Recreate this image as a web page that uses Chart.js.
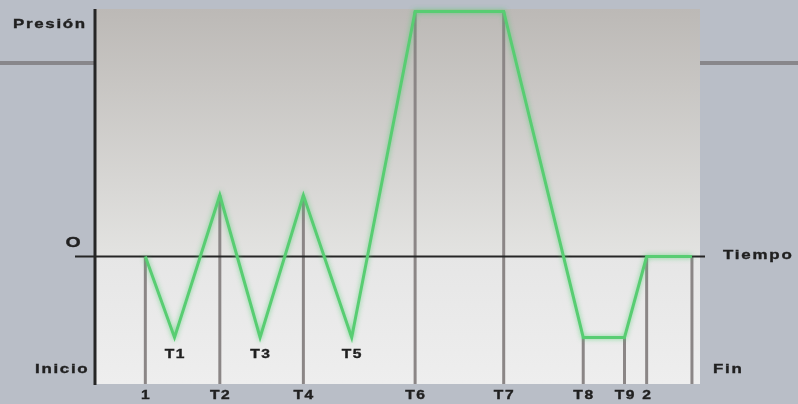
<!DOCTYPE html>
<html>
<head>
<meta charset="utf-8">
<script src="https://cdn.jsdelivr.net/npm/chart.js@4"></script>
<style>
  html, body { margin: 0; padding: 0; background: #b9bec7; }
  #wrap { width: 798px; height: 404px; }
</style>
</head>
<body>
<div id="wrap"><canvas id="chart"></canvas></div>
<script>
// cycle points: time (x) and pressure (y)
const times     = [4.9, 7.8, 12.3, 16.3, 20.6, 25.4, 31.7, 40.5, 48.4, 52.5, 54.7, 59.2];
const pressures = [0, -33, 25, -33, 25, -33, 100, 100, -33, -33, 0, 0];
const pointNames = ['1', 'T1', 'T2', 'T3', 'T4', 'T5', 'T6', 'T7', 'T8', 'T9', '2', ''];
// points that get a vertical drop line to the base
const dropPoints = [0, 2, 4, 6, 7, 8, 9, 10, 11];
const refLevel = 79;          // grey reference level outside the box
const timeRange = [0, 60];
const pressureRange = [-52, 101];

const FONT = '"Liberation Sans", Arial, sans-serif';
const STRETCH = 1.3;   // the original lettering is an extended bold face

function label(ctx, text, x, y, size, align, spacing) {
    ctx.save();
    ctx.font = 'bold ' + size + 'px ' + FONT;
    ctx.fillStyle = '#202020';
    ctx.strokeStyle = '#202020';
    ctx.lineWidth = 0.35;
    ctx.textBaseline = 'middle';
    ctx.textAlign = 'left';
    ctx.letterSpacing = (spacing / STRETCH) + 'px';
    const w = (ctx.measureText(text).width - spacing / STRETCH) * STRETCH;
    let left = x;
    if (align === 'center') left = x - w / 2;
    if (align === 'right') left = x - w;
    ctx.translate(left, y);
    ctx.scale(STRETCH, 1);
    ctx.fillText(text, 0, 0);
    ctx.strokeText(text, 0, 0);
    ctx.restore();
}

const backdrop = {
    id: 'backdrop',
    beforeDraw(chart) {
        const { ctx, chartArea: a, scales: { x, y } } = chart;
        const zero = y.getPixelForValue(0);
        ctx.save();
        ctx.fillStyle = '#b9bec7';
        ctx.fillRect(0, 0, chart.width, chart.height);

        // grey reference line across the page
        const ry = y.getPixelForValue(refLevel);
        ctx.strokeStyle = '#88878b';
        ctx.lineWidth = 4;
        ctx.beginPath();
        ctx.moveTo(0, ry);
        ctx.lineTo(chart.width, ry);
        ctx.stroke();

        // plot box, upper part darker at top
        let g = ctx.createLinearGradient(0, a.top, 0, zero);
        g.addColorStop(0, '#bcb9b6');
        g.addColorStop(1, '#e3e3e1');
        ctx.fillStyle = g;
        ctx.fillRect(a.left, a.top, a.right - a.left, zero - a.top);
        g = ctx.createLinearGradient(0, zero, 0, a.bottom);
        g.addColorStop(0, '#e6e6e6');
        g.addColorStop(1, '#eeeeee');
        ctx.fillStyle = g;
        ctx.fillRect(a.left, zero, a.right - a.left, a.bottom - zero);
        ctx.restore();
    },
    beforeDatasetsDraw(chart) {
        const { ctx, chartArea: a, scales: { x, y } } = chart;
        const zero = y.getPixelForValue(0);
        ctx.save();
        // drop lines
        ctx.strokeStyle = '#8b8686';
        ctx.lineWidth = 3;
        dropPoints.forEach(i => {
            const px = x.getPixelForValue(times[i]);
            ctx.beginPath();
            ctx.moveTo(px, y.getPixelForValue(pressures[i]));
            ctx.lineTo(px, a.bottom);
            ctx.stroke();
        });
        // pressure axis
        ctx.strokeStyle = '#262626';
        ctx.lineWidth = 3;
        ctx.beginPath();
        ctx.moveTo(a.left - 1, a.top);
        ctx.lineTo(a.left - 1, a.bottom + 1);
        ctx.stroke();
        // time axis at zero
        ctx.lineWidth = 2;
        ctx.beginPath();
        ctx.moveTo(a.left - 21, zero);
        ctx.lineTo(a.right + 5, zero);
        ctx.stroke();
        ctx.restore();
    },
    beforeDatasetDraw(chart) {
        chart.ctx.save();
        chart.ctx.shadowColor = 'rgba(70, 205, 105, 0.7)';
        chart.ctx.shadowBlur = 5;
    },
    afterDatasetDraw(chart) {
        chart.ctx.restore();
    },
    afterDraw(chart) {
        const { ctx, chartArea: a, scales: { x, y } } = chart;
        const zero = y.getPixelForValue(0);
        label(ctx, 'Presión', 13, 24, 13, 'left', 1.7);
        label(ctx, 'O', 73, 243, 15, 'center', 0);
        label(ctx, 'Inicio', 35, 369, 13, 'left', 1.7);
        label(ctx, 'Tiempo', 723, zero - 1, 13, 'left', 1.8);
        label(ctx, 'Fin', 713, 369, 13, 'left', 1.7);
        pointNames.forEach((name, i) => {
            if (!name) return;
            const px = x.getPixelForValue(times[i]);
            if (dropPoints.includes(i)) {
                label(ctx, name, px, a.bottom + 12, 12, 'center', 1.5);
            } else {
                label(ctx, name, px, y.getPixelForValue(pressures[i]) + 17, 12, 'center', 1.5);
            }
        });
    }
};

const points = times.map((t, i) => ({ x: t, y: pressures[i] }));

new Chart(document.getElementById('chart'), {
    type: 'line',
    data: {
        datasets: [{
            data: points,
            borderColor: '#58cd72',
            borderWidth: 3,
            pointRadius: 0,
            tension: 0,
            fill: false,
            clip: false
        }]
    },
    options: {
        responsive: true,
        maintainAspectRatio: false,
        animation: false,
        layout: { padding: { left: 96, right: 98, top: 9, bottom: 20 } },
        plugins: { legend: { display: false }, tooltip: { enabled: false } },
        scales: {
            x: { type: 'linear', min: timeRange[0], max: timeRange[1], display: false },
            y: { min: pressureRange[0], max: pressureRange[1], display: false }
        }
    },
    plugins: [backdrop]
});
</script>
</body>
</html>
